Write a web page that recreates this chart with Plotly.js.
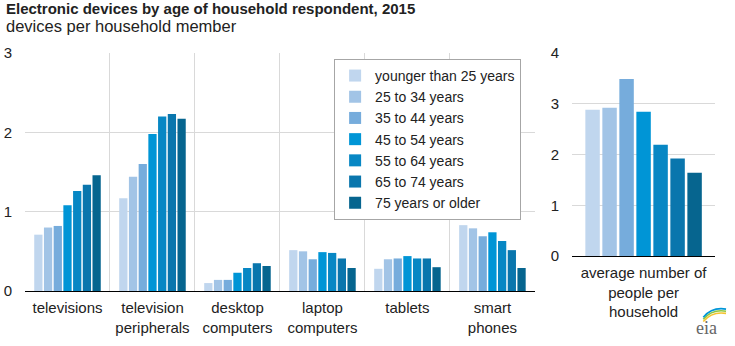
<!DOCTYPE html>
<html>
<head>
<meta charset="utf-8">
<script src="https://cdn.plot.ly/plotly-3.0.1.min.js"></script>
<style>html,body{margin:0;padding:0;background:#fff;}#chart{width:735px;height:346px;}</style>
</head>
<body>
<div id="chart"></div>
<script>
const categories = ['televisions', 'television<br>peripherals', 'desktop<br>computers', 'laptop<br>computers', 'tablets', 'smart<br>phones'];
const ageGroups = ['younger than 25 years', '25 to 34 years', '35 to 44 years', '45 to 54 years', '55 to 64 years', '65 to 74 years', '75 years or older'];
const colors = ['#c0d6ee', '#a2c4e6', '#76acdc', '#0095d6', '#0787c4', '#0a76ad', '#06658f'];
// devices per household member, one array per age group, in category order
const young = [0.71, 1.17, 0.10, 0.515, 0.28, 0.83];
const age25 = [0.80, 1.44, 0.14, 0.50, 0.40, 0.79];
const age35 = [0.82, 1.60, 0.14, 0.40, 0.41, 0.69];
const age45 = [1.08, 1.98, 0.23, 0.49, 0.44, 0.74];
const age55 = [1.26, 2.20, 0.29, 0.48, 0.41, 0.63];
const age65 = [1.34, 2.23, 0.35, 0.41, 0.41, 0.515];
const age75 = [1.46, 2.17, 0.315, 0.29, 0.30, 0.29];
const seriesValues = [young, age25, age35, age45, age55, age65, age75];
// average number of people per household, per age group
const householdCategory = ['average number of<br>people per<br>household'];
const peoplePerHousehold = [2.88, 2.92, 3.49, 2.84, 2.19, 1.92, 1.64];

const FONT = 'Arial, "Liberation Sans", sans-serif';
const traces = [];
ageGroups.forEach((name, i) => {
  traces.push({
    type: 'bar', name: name, x: categories, y: seriesValues[i],
    marker: {color: colors[i]}, xaxis: 'x', yaxis: 'y', hoverinfo: 'y+name'
  });
});
ageGroups.forEach((name, i) => {
  traces.push({
    type: 'bar', name: name, x: householdCategory, y: [peoplePerHousehold[i]],
    marker: {color: colors[i]}, xaxis: 'x2', yaxis: 'y2', showlegend: false, hoverinfo: 'y+name'
  });
});

// small decorative logo arcs (paper coordinates)
const arcColors = ['#f4c431', '#8cc63f', '#0096d7'];
const logoShapes = arcColors.map((c, k) => ({
  type: 'path', xref: 'paper', yref: 'paper',
  path: 'M 0.983,' + (-0.128 + k * 0.009) + ' Q 0.996,' + (-0.084 + k * 0.009) + ' 1.016,' + (-0.094 + k * 0.009),
  line: {color: c, width: 1.6}
}));

const layout = {
  width: 735, height: 346,
  margin: {l: 25, r: 20, t: 53, b: 55},
  paper_bgcolor: '#fff', plot_bgcolor: '#fff',
  font: {family: FONT, size: 15, color: '#222'},
  barmode: 'group', bargap: 0.2, bargroupgap: 0.15,
  showlegend: true,
  legend: {
    x: 0.719, xanchor: 'right', y: 0.975, yanchor: 'top',
    bordercolor: '#a6a6a6', borderwidth: 1, bgcolor: '#fff',
    font: {family: FONT, size: 14, color: '#222'},
    itemwidth: 30, tracegroupgap: 0
  },
  xaxis: {
    domain: [0, 0.739], type: 'category', tickson: 'boundaries',
    showgrid: true, gridcolor: '#d9d9d9', gridwidth: 1,
    showline: true, linecolor: '#000', linewidth: 1, ticks: '',
    tickfont: {family: FONT, size: 15, color: '#222'}, ticklabelstandoff: 3,
    fixedrange: true
  },
  yaxis: {
    domain: [0, 1], range: [0, 3], dtick: 1,
    showgrid: true, gridcolor: '#d9d9d9', zeroline: false, ticks: '',
    tickfont: {family: FONT, size: 15, color: '#222'}, ticklabelstandoff: 12,
    fixedrange: true
  },
  xaxis2: {
    domain: [0.793, 1], anchor: 'y2', type: 'category', range: [-0.48, 0.48],
    showgrid: false, showline: true, linecolor: '#000', linewidth: 1, ticks: '',
    tickfont: {family: FONT, size: 15, color: '#222'}, ticklabelstandoff: 3,
    fixedrange: true
  },
  yaxis2: {
    domain: [0.147, 1], anchor: 'x2', range: [0, 4], dtick: 1,
    showgrid: true, gridcolor: '#d9d9d9', zeroline: false, ticks: '',
    tickfont: {family: FONT, size: 15, color: '#222'}, ticklabelstandoff: 12,
    fixedrange: true
  },
  shapes: logoShapes,
  annotations: [
    {text: '<b>Electronic devices by age of household respondent, 2015</b>', xref: 'paper', yref: 'paper',
     x: -0.03, y: 1, xanchor: 'left', yanchor: 'bottom', yshift: 34, showarrow: false,
     font: {family: FONT, size: 15, color: '#222'}},
    {text: 'devices per household member', xref: 'paper', yref: 'paper',
     x: -0.03, y: 1, xanchor: 'left', yanchor: 'bottom', yshift: 16, showarrow: false,
     font: {family: FONT, size: 16.5, color: '#222'}},
    {text: 'eia', xref: 'paper', yref: 'paper', x: 0.988, y: -0.155, xanchor: 'center', yanchor: 'middle',
     showarrow: false, font: {family: '"Liberation Serif", serif', size: 18, color: '#666'}}
  ]
};

Plotly.newPlot('chart', traces, layout, {displayModeBar: false, staticPlot: true});
</script>
</body>
</html>
